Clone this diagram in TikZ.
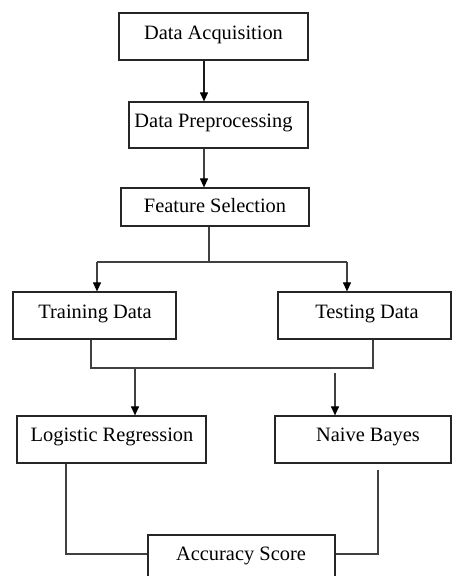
\documentclass[tikz,border=0pt]{standalone}
\usepackage{fontspec}
\setmainfont{Liberation Serif}
\usetikzlibrary{arrows.meta}

\tikzset{
  box/.style={draw=black!85, line width=1.2pt, inner sep=0pt, minimum width=#1},
  lbl/.style={inner sep=0pt, font=\fontsize{20.4}{24}\selectfont},
  wire/.style={draw=black!75, line width=1.1pt},
  arr/.style={wire, -{Triangle[width=8pt,length=9pt,fill=black,color=black]}},
}

\begin{document}
\begin{tikzpicture}[x=1pt, y=-1pt]
  \useasboundingbox (0,0) rectangle (454,576);
  \clip (0,0) rectangle (454,576);
  \fill[white] (0,0) rectangle (454,576);

  % process boxes
  \node[box=189, minimum height=47] (da) at (213.5,36.5) {};
  \node[box=179, minimum height=46] (dp) at (218.5,125) {};
  \node[box=188, minimum height=38] (fs) at (215,207) {};
  \node[box=163, minimum height=47] (tr) at (94.5,315.5) {};
  \node[box=173, minimum height=47] (te) at (364.5,315.5) {};
  \node[box=189, minimum height=47] (lr) at (111.5,439.5) {};
  \node[box=176, minimum height=47] (nb) at (363,439.5) {};
  \node[box=187, minimum height=44] (ac) at (241.5,557) {};

  % box captions
  \node[lbl] (dat) at (213.5,34.5) {Data Acquisition};
  \node[lbl] (dpt) at (213.5,122.5) {Data Preprocessing};
  \node[lbl] (fst) at (215,205.5) {Feature Selection};
  \node[lbl] (trt) at (95,313.5) {Training Data};
  \node[lbl] (tet) at (367,313.5) {Testing Data};
  \node[lbl] (lrt) at (112,436.5) {Logistic Regression};
  \node[lbl] (nbt) at (368,436.5) {Naive Bayes};
  \node[lbl] (act) at (241,555.5) {Accuracy Score};

  % routing columns and rows
  \coordinate (c1) at (204,0);
  \coordinate (c2) at (209,262);
  \coordinate (sl) at (97,262);
  \coordinate (sr) at (347,262);
  \coordinate (jl) at (91,368);
  \coordinate (jr) at (373,368);
  \coordinate (ml) at (135,368);
  \coordinate (mr) at (335,373);
  \coordinate (ol) at (66,554);
  \coordinate (or) at (378,554);

  % linear chain
  \draw[arr, draw=black!90] (da.south -| c1) -- (dp.north -| c1);
  \draw[arr] (dp.south -| c1) -- (fs.north -| c1);

  % split into training and testing data
  \draw[wire] (fs.south -| c2) -- (c2);
  \draw[wire] (sl) -- (sr);
  \draw[arr] (sl) -- (tr.north -| sl);
  \draw[arr] (sr) -- (te.north -| sr);

  % join and feed both classifiers
  \draw[wire] (tr.south -| jl) -- (jl) -- (jr) -- (te.south -| jr);
  \draw[arr] (ml) -- (lr.north -| ml);
  \draw[arr] (mr) -- (nb.north -| mr);

  % classifiers into the score
  \draw[wire] (lr.south -| ol) -- (ol) -- (ac.west |- ol);
  \draw[wire] (nb.south -| or) ++(0,6) -- (or) -- (ac.east |- or);
\end{tikzpicture}
\end{document}
